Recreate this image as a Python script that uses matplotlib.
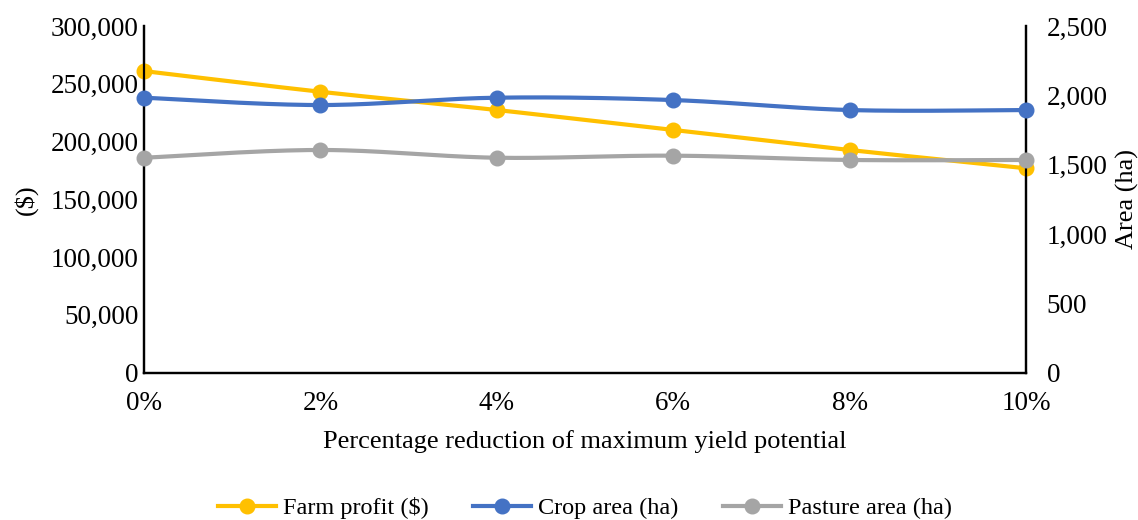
import numpy as np
import matplotlib.pyplot as plt
from matplotlib.ticker import FuncFormatter

plt.rcParams['font.family'] = ['Liberation Serif', 'DejaVu Serif']

reduction = [0, 2, 4, 6, 8, 10]
tick_labels = ["0%", "2%", "4%", "6%", "8%", "10%"]
farm_profit = [261000, 243100, 227300, 210000, 192700, 176900]
crop_area = [1983, 1930, 1983, 1966, 1894, 1894]
pasture_area = [1550, 1606, 1550, 1565, 1534, 1534]

YELLOW = "#FFC000"
BLUE = "#4472C4"
GREY = "#A5A5A5"


def smooth(x, y, n=30):
    # Catmull-Rom style curve through the points, like spreadsheet "smoothed line"
    x = np.asarray(x, float)
    y = np.asarray(y, float)
    px = np.concatenate([[x[0]], x, [x[-1]]])
    py = np.concatenate([[y[0]], y, [y[-1]]])
    xs, ys = [], []
    t = np.linspace(0, 1, n)
    for i in range(1, len(px) - 2):
        p0 = np.array([px[i], py[i]])
        p3 = np.array([px[i + 1], py[i + 1]])
        c1 = p0 + (np.array([px[i + 1], py[i + 1]]) - np.array([px[i - 1], py[i - 1]])) / 6
        c2 = p3 - (np.array([px[i + 2], py[i + 2]]) - np.array([px[i], py[i]])) / 6
        b = ((1 - t) ** 3)[:, None] * p0 + (3 * (1 - t) ** 2 * t)[:, None] * c1 \
            + (3 * (1 - t) * t ** 2)[:, None] * c2 + (t ** 3)[:, None] * p3
        xs.extend(b[:, 0])
        ys.extend(b[:, 1])
    return xs, ys


fig = plt.figure(figsize=(11.38, 5.2), dpi=100)
ax = fig.add_axes([0.1265, 0.2833, 0.775, 0.6667])
ax2 = ax.twinx()

lw = 3
ms = 10.5

sx, sy = smooth(reduction, farm_profit)
ax.plot(sx, sy, color=YELLOW, lw=lw, solid_capstyle="round", clip_on=False)
ax.plot(reduction, farm_profit, "o", color=YELLOW, ms=ms, clip_on=False, zorder=3)

sx, sy = smooth(reduction, crop_area)
ax2.plot(sx, sy, color=BLUE, lw=lw, solid_capstyle="round", clip_on=False)
ax2.plot(reduction, crop_area, "o", color=BLUE, ms=ms, clip_on=False, zorder=3)

sx, sy = smooth(reduction, pasture_area)
ax2.plot(sx, sy, color=GREY, lw=lw, solid_capstyle="round", clip_on=False)
ax2.plot(reduction, pasture_area, "o", color=GREY, ms=ms, clip_on=False, zorder=3)

ax.set_xlim(0, 10)
ax.set_ylim(0, 300000)
ax2.set_ylim(0, 2500)
ax.set_xticks(reduction)
ax.set_xticklabels(tick_labels)
ax.set_yticks(np.arange(0, 300001, 50000))
ax2.set_yticks(np.arange(0, 2501, 500))
fmt = FuncFormatter(lambda v, p: f"{v:,.0f}")
ax.yaxis.set_major_formatter(fmt)
ax2.yaxis.set_major_formatter(fmt)

for a in (ax, ax2):
    a.spines["top"].set_visible(False)
    for s in ("left", "right", "bottom"):
        a.spines[s].set_linewidth(1.6)
        a.spines[s].set_color("black")
    a.tick_params(length=0, labelsize=19.5)
ax.tick_params(axis="y", pad=4)
ax.tick_params(axis="x", pad=13)
ax2.tick_params(axis="y", pad=15)

ax.set_ylabel("($)", fontsize=19, labelpad=9)
ax2.set_ylabel("Area (ha)", fontsize=19, labelpad=6)
ax.set_xlabel("Percentage reduction of maximum yield potential", fontsize=19, labelpad=10)

handles = [
    plt.Line2D([], [], color=YELLOW, lw=lw, marker="o", ms=ms),
    plt.Line2D([], [], color=BLUE, lw=lw, marker="o", ms=ms),
    plt.Line2D([], [], color=GREY, lw=lw, marker="o", ms=ms),
]
fig.legend(handles, ["Farm profit ($)", "Crop area (ha)", "Pasture area (ha)"],
           loc="center", bbox_to_anchor=(0.514, 0.023), ncol=3, frameon=False,
           fontsize=17.5, handlelength=2.4, columnspacing=1.8, handletextpad=0.3)

fig.savefig("out.png", dpi=100)
